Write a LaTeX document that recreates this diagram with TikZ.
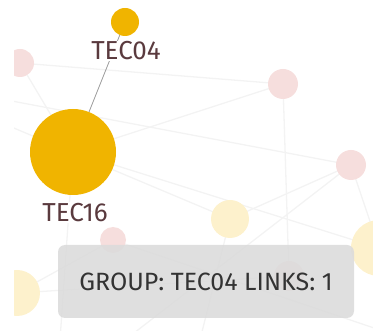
\documentclass[tikz,border=0pt]{standalone}
\usepackage{fontspec}
\setmainfont{Fira Sans}
\usetikzlibrary{positioning}
\definecolor{gold}{HTML}{F0B400}
\definecolor{rose}{HTML}{F6DEDD}
\definecolor{cream}{HTML}{FDF1CC}
\definecolor{maroon}{HTML}{5A3A3E}
\definecolor{faint}{HTML}{F3F3F3}

\begin{document}
\begin{tikzpicture}[x=1pt,y=-1pt,
  dot/.style={circle,inner sep=0pt,minimum size=#1},
  lbl/.style={text=maroon,font=\fontsize{26}{30}\selectfont,inner sep=1pt,fill=white},
  bg/.style={draw=faint,line width=1.3pt}]
  \useasboundingbox (0,0) rectangle (373,331);
  \begin{scope}
    \clip (14,0) rectangle (373,331);
    % faded nodes
    \coordinate (p1) at (20,63);
    \coordinate (p2) at (283,84);
    \coordinate (p3) at (351,165);
    \coordinate (p4) at (113,240);
    \coordinate (p5) at (289,276);
    \coordinate (y1) at (230,219);
    \coordinate (y2) at (379,248);
    \coordinate (y3) at (17,293);
    \coordinate (c16) at (73,152);
    \coordinate (w1) at (-20,95);
    \coordinate (w2) at (125,340);
    \coordinate (w3) at (-10,118);
    \coordinate (w4) at (200,340);
    \coordinate (w5) at (380,330);
    \coordinate (w6) at (60,340);

    \draw[bg] (p1) -- (p2);
    \draw[bg] (c16) -- (p2);
    \draw[bg] (w1) -- (p3);
    \draw[bg] (p2) -- (p5);
    \draw[bg] (p3) -- (y2);
    \draw[bg] (p3) -- (w2);
    \draw[bg] (p3) -- (y1);
    \draw[bg] (c16) -- (y2);
    \draw[bg] (p1) -- (c16);
    \draw[bg] (w3) -- (y1);
    \draw[bg] (y1) -- (w4);
    \draw[bg] (y3) -- (p5);
    \draw[bg] (p4) -- (w5);
    \draw[bg] (c16) -- (w6);
    \draw[bg] (y3) -- (p4);

    \node[dot=28,fill=rose] (n1) at (p1) {};
    \node[dot=30,fill=rose] (n2) at (p2) {};
    \node[dot=30,fill=rose] (n3) at (p3) {};
    \node[dot=26,fill=rose] (n4) at (p4) {};
    \node[dot=30,fill=rose] (n5) at (p5) {};
    \node[dot=38,fill=cream] (n6) at (y1) {};
    \node[dot=56,fill=cream] (n7) at (y2) {};
    \node[dot=46,fill=cream] (n8) at (y3) {};
  \end{scope}

  % the group and its link
  \node[dot=28,fill=gold] (t04) at (125,22) {};
  \node[dot=86,fill=gold] (t16) at (73,152) {};
  \draw[gray!80,line width=0.8pt] (t04) -- (t16);
  \node[lbl] (t04lbl) at (126,51) {TEC04};
  \node[lbl] (t16lbl) at (75,212.5) {TEC16};

  % tooltip
  \node[fill=black!14,fill opacity=0.88,text opacity=1,text=black!80,
    rounded corners=7pt,minimum width=296pt,minimum height=73pt,
    font=\fontsize{25}{29}\selectfont] (tip) at (206,281.5)
    {GROUP: TEC04 LINKS: 1};
\end{tikzpicture}
\end{document}
